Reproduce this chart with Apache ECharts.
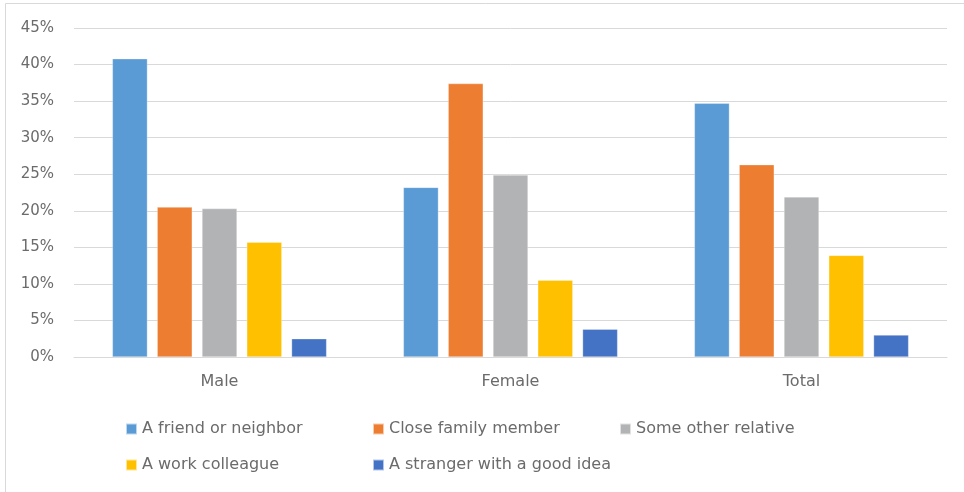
<!DOCTYPE html>
<html><head><meta charset="utf-8">
<script src="https://cdn.jsdelivr.net/npm/echarts@6/dist/echarts.min.js"></script>
<style>html,body{margin:0;padding:0;background:#fff}#c{width:964px;height:492px}</style>
</head><body><div id="c"></div>
<script>
const categories = ['Male', 'Female', 'Total'];
const seriesNames = ['A friend or neighbor', 'Close family member', 'Some other relative', 'A work colleague', 'A stranger with a good idea'];
const friendNeighbor = [40.8, 23.2, 34.7];
const closeFamily = [20.5, 37.4, 26.3];
const otherRelative = [20.3, 24.9, 21.9];
const workColleague = [15.7, 10.5, 13.9];
const stranger = [2.5, 3.8, 3.0];
const yTicks = [0, 5, 10, 15, 20, 25, 30, 35, 40, 45];

const values = [friendNeighbor, closeFamily, otherRelative, workColleague, stranger];
const colors = ['#5b9bd5', '#ed7d31', '#b2b3b4', '#ffc000', '#4472c4'];
const font = "'DejaVu Sans', sans-serif";
const txt = '#6b6b6b';

const legendPos = [[125, 421], [372, 421], [619, 421], [125, 457], [372, 457]];
const chart = echarts.init(document.getElementById('c'));
chart.setOption({
  animation: false,
  backgroundColor: '#fff',
  graphic: [{type: 'rect', shape: {x: 5.5, y: 3.5, width: 970, height: 500}, style: {fill: 'none', stroke: '#d9d9d9', lineWidth: 1}}],
  grid: {left: 74, right: 17, top: 28, bottom: 135, containLabel: false},
  legend: legendPos.map((p, i) => ({
    data: [seriesNames[i]], left: p[0], top: p[1], itemWidth: 11, itemHeight: 11, itemGap: 5, padding: 0,
    icon: 'rect', textStyle: {color: txt, fontSize: 16, fontFamily: font, padding: [0, 0, 0, 0]}
  })),
  xAxis: {
    type: 'category', data: categories,
    axisLine: {lineStyle: {color: '#d9d9d9', width: 1}},
    axisTick: {show: false},
    axisLabel: {color: txt, fontSize: 16, fontFamily: font, margin: 17}
  },
  yAxis: {
    type: 'value', min: yTicks[0], max: yTicks[yTicks.length - 1], interval: 5,
    axisLine: {show: false}, axisTick: {show: false},
    splitLine: {lineStyle: {color: '#d9d9d9', width: 1}},
    axisLabel: {color: txt, fontSize: 15, fontFamily: font, margin: 20, formatter: v => v + '%'}
  },
  series: seriesNames.map((n, i) => ({
    name: n, type: 'bar', data: values[i], barWidth: 35, barGap: '28%',
    itemStyle: {color: colors[i], borderColor: 'rgba(255,255,255,0.6)', borderWidth: 0.5}
  }))
});
</script></body></html>
